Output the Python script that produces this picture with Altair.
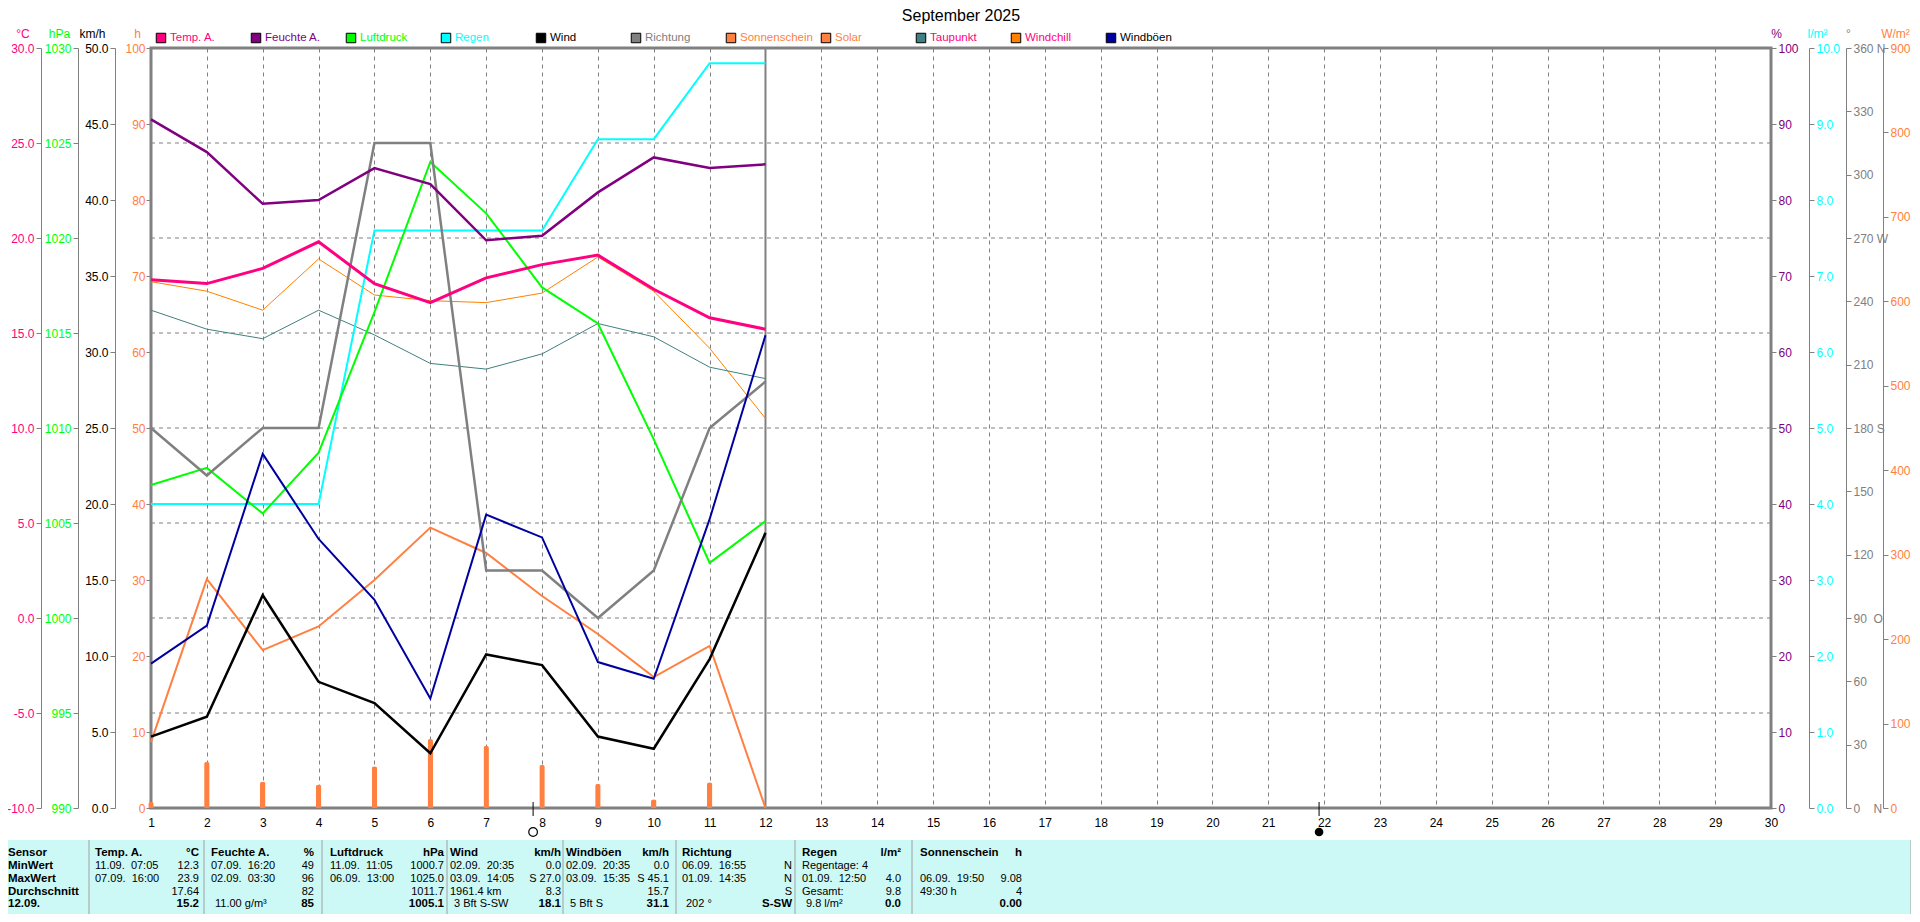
import altair as alt
import pandas as pd

# ---------------- data (daily values, September 2025) ----------------
days = list(range(1, 13))
temp = [17.8, 17.6, 18.4, 19.8, 17.6, 16.6, 17.9, 18.6, 19.1, 17.3, 15.8, 15.2]
humidity = [90.6, 86.3, 79.5, 80.0, 84.2, 82.1, 74.7, 75.3, 81.0, 85.6, 84.2, 84.7]
pressure = [1007.0, 1007.9, 1005.5, 1008.7, 1016.1, 1024.0, 1021.3, 1017.4, 1015.5, 1009.4, 1002.9, 1005.1]
rain = [4.0, 4.0, 4.0, 4.0, 7.6, 7.6, 7.6, 7.6, 8.8, 8.8, 9.8, 9.8]
wind = [4.7, 6.0, 14.0, 8.3, 6.9, 3.6, 10.1, 9.4, 4.7, 3.9, 9.8, 18.1]
direction = [180, 157.5, 180, 180, 315, 315, 112.5, 112.5, 90, 112.5, 180, 202]
sunshine = [0.8, 6.1, 3.5, 3.1, 5.5, 9.08, 8.2, 5.7, 3.2, 1.15, 3.4, 0.0]
solar = [78, 271, 187, 215, 270, 332, 302, 251, 206, 155, 192, 0]
dewpoint = [16.2, 15.2, 14.7, 16.2, 14.9, 13.4, 13.1, 13.9, 15.5, 14.8, 13.2, 12.6]
windchill = [17.7, 17.2, 16.2, 18.9, 17.0, 16.7, 16.6, 17.1, 19.0, 17.2, 14.2, 10.5]
gusts = [9.5, 12.0, 23.3, 17.7, 13.7, 7.2, 19.3, 17.8, 9.6, 8.5, 19.0, 31.1]

today = [12]
moon_days = [7.84, 21.91]          # full moon, new moon
temp_grid = [-5, 0, 5, 10, 15, 20, 25]
x_ticks = list(range(1, 31))

legend_names = ["Temp. A.", "Feuchte A.", "Luftdruck", "Regen", "Wind", "Richtung",
                "Sonnenschein", "Solar", "Taupunkt", "Windchill", "Windböen"]
legend_square = ["#FF0080", "#800080", "#00FF00", "#00FFFF", "#000000", "#808080",
                 "#FF8040", "#FF8040", "#408080", "#FF8000", "#0000A0"]
legend_text = ["#FF0080", "#800080", "#00FF00", "#00FFFF", "#000000", "#808080",
               "#FF8040", "#FF8040", "#FF0080", "#FF0080", "#000000"]

tbl_head_left = ["Sensor", "Temp. A.", "Feuchte A.", "Luftdruck", "Wind", "Windböen",
                 "Richtung", "Regen", "Sonnenschein"]
tbl_head_right = ["", "°C", "%", "hPa", "km/h", "km/h", "", "l/m²", "h"]
tbl_row_labels = ["MinWert", "MaxWert", "Durchschnitt", "12.09."]
tbl_left = [
    ["11.09.  07:05", "07.09.  16:20", "11.09.  11:05", "02.09.  20:35", "02.09.  20:35", "06.09.  16:55", "Regentage: 4", ""],
    ["07.09.  16:00", "02.09.  03:30", "06.09.  13:00", "03.09.  14:05", "03.09.  15:35", "01.09.  14:35", "01.09.  12:50", "06.09.  19:50"],
    ["", "", "", "1961.4 km", "", "", "Gesamt:", "49:30 h"],
    ["", "11.00 g/m³", "", "3 Bft S-SW", "5 Bft S", "202 °", "9.8 l/m²", ""],
]
tbl_right = [
    ["12.3", "49", "1000.7", "0.0", "0.0", "N", "", ""],
    ["23.9", "96", "1025.0", "S 27.0", "S 45.1", "N", "4.0", "9.08"],
    ["17.64", "82", "1011.7", "8.3", "15.7", "S", "9.8", "4"],
    ["15.2", "85", "1005.1", "18.1", "31.1", "S-SW", "0.0", "0.00"],
]

# ---------------- layout constants ----------------
PL, PT = 151, 48                     # plot origin in page pixels (used to offset layout)
col_left = [8, 95, 211, 330, 450, 566, 682, 802, 920]
col_right = [0, 199, 314, 444, 561, 669, 792, 901, 1022]
sep_x = [89, 204, 322, 447, 563, 676, 795, 912, 1911]
row_y = [853, 866, 879, 892, 904]

GRAY = "#808080"
FONT = "Liberation Sans"
NB = "\u00a0"

df = pd.DataFrame({
    "day": days, "temp": temp, "hum": humidity, "pres": pressure, "rain": rain,
    "wind": wind, "dir": direction, "sun": sunshine, "solar": solar,
    "dew": dewpoint, "chill": windchill, "gust": gusts,
})

x_scale = alt.Scale(domain=[1, 30], nice=False, zero=False, padding=0)
x_axis = alt.Axis(values=x_ticks, format="d", title=None, orient="bottom", ticks=False,
                  tickSize=0, domain=False, labelFontSize=12, labelColor="black",
                  labelPadding=9, labelFlush=False, grid=True, gridColor=GRAY,
                  gridDash=[4, 4], gridWidth=1, labelOverlap=False, labelFont=FONT)


def X(show=False):
    return alt.X("day:Q", scale=x_scale, axis=x_axis if show else None)


def sc(lo, hi):
    return alt.Scale(domain=[lo, hi], nice=False, zero=False, padding=0)


def yax(orient, offset, color, title, values, expr, title_x, domain=True, pad=2):
    return alt.Axis(orient=orient, offset=offset, title=title, titleAngle=0,
                    titleX=title_x, titleY=-15, titleAlign="center",
                    titleBaseline="middle", titleColor=color, titleFontSize=12,
                    titleFontWeight="normal", titleFont=FONT, labelFont=FONT,
                    labelColor=color, labelFontSize=12, values=values,
                    labelExpr=expr, tickColor=GRAY, tickSize=5, tickWidth=1,
                    labelPadding=pad, domain=domain, domainColor=GRAY,
                    domainWidth=1, grid=False, labelOverlap=False)


dir_expr = ("datum.value == 360 ? '360 N' : datum.value == 270 ? '270 W' : "
            "datum.value == 180 ? '180 S' : datum.value == 90 ? '90" + NB + NB + "O' : "
            "datum.value == 0 ? '0" + NB * 4 + "N' : format(datum.value, 'd')")

ax_temp = yax("left", 110, "#FF0080", "°C", list(range(-10, 31, 5)),
              "replace(format(datum.value, '.1f'), '\u2212', '-')", -18.5)
ax_pres = yax("left", 73, "#00FF00", "hPa", list(range(990, 1031, 5)),
              "format(datum.value, 'd')", -19)
ax_wind = yax("left", 36, "#000000", "km/h", list(range(0, 51, 5)),
              "format(datum.value, '.1f')", -23)
ax_h = yax("left", 0, "#FF8040", "h", list(range(0, 101, 10)),
           "format(datum.value, 'd')", -14, domain=False, pad=1)
ax_hum = yax("right", 0, "#800080", "%", list(range(0, 101, 10)),
             "format(datum.value, 'd')", 5, domain=False)
ax_rain = yax("right", 38, "#00FFFF", "l/m²", [i / 1.0 for i in range(0, 11)],
              "format(datum.value, '.1f')", 8)
ax_dir = yax("right", 75, GRAY, "°", list(range(0, 361, 30)), dir_expr, 2)
ax_sol = yax("right", 112, "#FF8040", "W/m²", list(range(0, 901, 100)),
             "format(datum.value, 'd')", 12)

base = alt.Chart(df)

# grid & markers
hgrid = alt.Chart(pd.DataFrame({"t": temp_grid})).mark_rule(
    color=GRAY, strokeDash=[4, 4], strokeWidth=1
).encode(y=alt.Y("t:Q", scale=sc(-10, 30), axis=None))

today_line = alt.Chart(pd.DataFrame({"day": today})).mark_rule(
    color=GRAY, strokeWidth=2).encode(x=X())

bars = base.mark_bar(width=5.5, color="#FF8040", cornerRadiusTopLeft=2.5,
                     cornerRadiusTopRight=2.5).encode(
    x=X(True), y=alt.Y("sun:Q", scale=sc(0, 100), axis=ax_h))


def line(field, color, width, scale, axis=None):
    return base.mark_line(color=color, strokeWidth=width).encode(
        x=X(), y=alt.Y(f"{field}:Q", scale=scale, axis=axis))


l_solar = line("solar", "#FF8040", 2, sc(0, 900), ax_sol)
l_chill = line("chill", "#FF8000", 1, sc(-10, 30))
l_dew = line("dew", "#408080", 1, sc(-10, 30))
l_rain = line("rain", "#00FFFF", 2, sc(0, 10), ax_rain)
l_pres = line("pres", "#00FF00", 2, sc(990, 1030), ax_pres)
l_dir = line("dir", GRAY, 2.5, sc(0, 360), ax_dir)
l_hum = line("hum", "#800080", 2.5, sc(0, 100), ax_hum)
l_temp = line("temp", "#FF0080", 3, sc(-10, 30), ax_temp)
l_wind = line("wind", "#000000", 2.5, sc(0, 50), ax_wind)
l_gust = line("gust", "#0000A0", 2, sc(0, 50))

# moon markers
df_moon = pd.DataFrame({"day": moon_days})
moon_ticks = alt.Chart(df_moon).mark_rule(color="black", strokeWidth=1).encode(
    x=X(), y=alt.value(754), y2=alt.value(768))
moon_full = alt.Chart(df_moon.iloc[[0]]).mark_point(
    shape="circle", size=75, color="black", strokeWidth=1.2, filled=False, opacity=1
).encode(x=X(), y=alt.value(784))
moon_new = alt.Chart(df_moon.iloc[[1]]).mark_point(
    shape="circle", size=75, color="black", filled=True, opacity=1
).encode(x=X(), y=alt.value(784))

# title
title = alt.Chart(pd.DataFrame({"t": ["September 2025"]})).mark_text(
    fontSize=16, align="center", baseline="middle", color="black"
).encode(x=alt.value(810), y=alt.value(-32), text="t:N")

# legend
df_leg = pd.DataFrame({
    "name": legend_names, "sq": legend_square, "tc": legend_text,
    "px": [10 + 95 * i for i in range(len(legend_names))],
    "tx": [19 + 95 * i for i in range(len(legend_names))],
})
leg_sq = alt.Chart(df_leg).mark_square(size=90, opacity=1, stroke="black",
                                        strokeWidth=1).encode(
    x=alt.X("px:Q", scale=None), y=alt.value(-10), fill=alt.Fill("sq:N", scale=None))
leg_tx = alt.Chart(df_leg).mark_text(align="left", baseline="middle", fontSize=11.5).encode(
    x=alt.X("tx:Q", scale=None), y=alt.value(-10), text="name:N",
    color=alt.Color("tc:N", scale=None))

# table
def fix(s):
    return s.replace("  ", NB + " ")


rows_bl, rows_br, rows_nl, rows_nr = [], [], [], []
ry = [y - PT for y in row_y]
for c in range(9):
    rows_bl.append({"t": tbl_head_left[c], "x": col_left[c] - PL, "y": ry[0]})
    if tbl_head_right[c]:
        rows_br.append({"t": tbl_head_right[c], "x": col_right[c] - PL, "y": ry[0]})
for r, lab in enumerate(tbl_row_labels):
    rows_bl.append({"t": lab, "x": col_left[0] - PL, "y": ry[r + 1]})
    for c in range(8):
        lt = tbl_left[r][c]
        rt = tbl_right[r][c]
        indent = 4 if r == 3 else 0
        if lt:
            rows_nl.append({"t": fix(lt), "x": col_left[c + 1] - PL + indent, "y": ry[r + 1]})
        if rt:
            target = rows_br if r == 3 else rows_nr
            target.append({"t": rt, "x": col_right[c + 1] - PL, "y": ry[r + 1]})


def tlayer(rows, align, weight, size):
    return alt.Chart(pd.DataFrame(rows)).mark_text(
        align=align, baseline="middle", fontSize=size, fontWeight=weight, color="black"
    ).encode(x=alt.X("x:Q", scale=None), y=alt.Y("y:Q", scale=None), text="t:N")


tbl_bg = alt.Chart(pd.DataFrame({"a": [0]})).mark_rect(color="#CCF9F6").encode(
    x=alt.value(-PL + 8), x2=alt.value(1911 - PL), y=alt.value(840 - PT), y2=alt.value(880))
tbl_sep = alt.Chart(pd.DataFrame({"sx": [s - PL for s in sep_x]})).mark_rule(
    color="#A0A0A0", strokeWidth=1).encode(
    x=alt.X("sx:Q", scale=None), y=alt.value(840 - PT), y2=alt.value(880))

layers = [
    hgrid, today_line, bars,
    l_solar, l_chill, l_dew, l_rain, l_pres, l_dir, l_hum, l_temp, l_wind, l_gust,
    moon_ticks, moon_full, moon_new,
    title, leg_sq, leg_tx,
    tbl_bg, tbl_sep,
    tlayer(rows_bl, "left", "bold", 11.5),
    tlayer(rows_br, "right", "bold", 11.5),
    tlayer(rows_nl, "left", "normal", 11),
    tlayer(rows_nr, "right", "normal", 11),
]

chart = alt.layer(*layers).resolve_scale(
    x="independent", y="independent"
).resolve_axis(
    x="independent", y="independent"
).properties(
    width=1620, height=760,
    padding={"left": 143, "top": 40, "right": 140, "bottom": 106},
    autosize=alt.AutoSizeParams(type="none"),
).configure(font=FONT).configure_view(stroke=GRAY, strokeWidth=3)

chart.save("out.html", embed_options={"renderer": "svg", "actions": False})
